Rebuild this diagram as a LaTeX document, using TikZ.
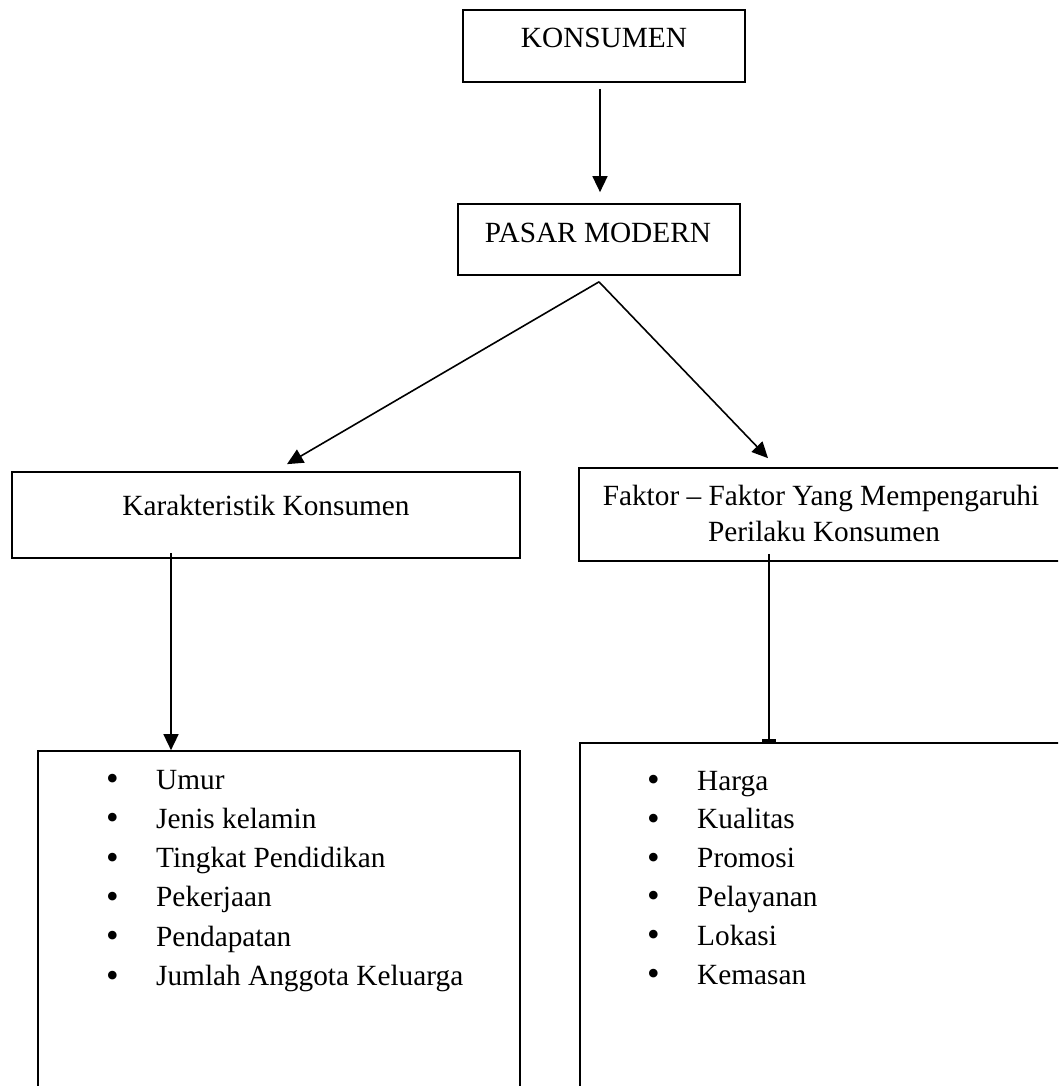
\documentclass[tikz,border=0pt]{standalone}
\usepackage{fontspec}
\setmainfont{Liberation Serif}
\usetikzlibrary{arrows.meta}
\newcommand{\bigbul}{\raisebox{-1.5pt}{\fontsize{36}{39}\selectfont•}}
\begin{document}
\begin{tikzpicture}[x=1pt,y=-1pt,
  box/.style={draw,line width=1.7pt,rectangle,inner sep=0pt},
  txt/.style={inner sep=0pt,font=\fontsize{29.3}{39}\selectfont},
  arr/.style={line width=1.6pt,-{Triangle[length=16pt,width=15pt]}},
  bararr/.style={line width=1.6pt,-{Rectangle[length=3pt,width=14pt]}}]
\useasboundingbox (0,0) rectangle (1058,1086);
\clip (0,0) rectangle (1058,1086);
% boxes
\node[box,minimum width=282pt,minimum height=72pt] (konsumen) at (604,46) {};
\node[box,minimum width=282pt,minimum height=71pt] (pasar) at (599,239.5) {};
\node[box,minimum width=508pt,minimum height=86pt] (karak) at (266,515) {};
\node[box,minimum width=491pt,minimum height=93pt] (faktor) at (824.5,514.5) {};
\node[box,minimum width=482pt,minimum height=360pt] (listL) at (279,931) {};
\node[box,minimum width=490pt,minimum height=360pt] (listR) at (825,923) {};
% texts
\node[txt,anchor=base] (tkons) at (604,48) {KONSUMEN};
\node[txt,anchor=base] (tpasar) at (598,242) {PASAR MODERN};
\node[txt,anchor=base] (tkarak) at (266,515) {Karakteristik Konsumen};
\node[txt,anchor=base] (tfak1) at (821,505) {Faktor – Faktor Yang Mempengaruhi};
\node[txt,anchor=base] (tfak2) at (824,541) {Perilaku Konsumen};
\foreach \t [count=\i from 0] in {Umur,Jenis kelamin,Tingkat Pendidikan,Pekerjaan,Pendapatan,Jumlah Anggota Keluarga}
  \node[txt,anchor=base west] (l\i) at (106,789+39.3*\i) {\makebox[50pt][l]{\bigbul}\t};
\foreach \t [count=\i from 0] in {Harga,Kualitas,Promosi,Pelayanan,Lokasi,Kemasan}
  \node[txt,anchor=base west] (r\i) at (647,790+38.8*\i) {\makebox[50pt][l]{\bigbul}\t};
% connectors
\coordinate (apex) at ([yshift=-6pt]pasar.south);
\draw[arr] ([xshift=-4pt,yshift=-6pt]konsumen.south) -- ([xshift=1pt,yshift=11pt]pasar.north);
\draw[arr] (apex) -- ([xshift=21pt,yshift=7pt]karak.north);
\draw[arr] (apex) -- ([xshift=-56.5pt,yshift=9pt]faktor.north);
\draw[arr] ([xshift=-95pt,yshift=6pt]karak.south) -- ([xshift=-108pt]listL.north);
\draw[bararr] ([xshift=-55.5pt,yshift=8pt]faktor.south) -- ([xshift=-56pt]listR.north);
\end{tikzpicture}
\end{document}
